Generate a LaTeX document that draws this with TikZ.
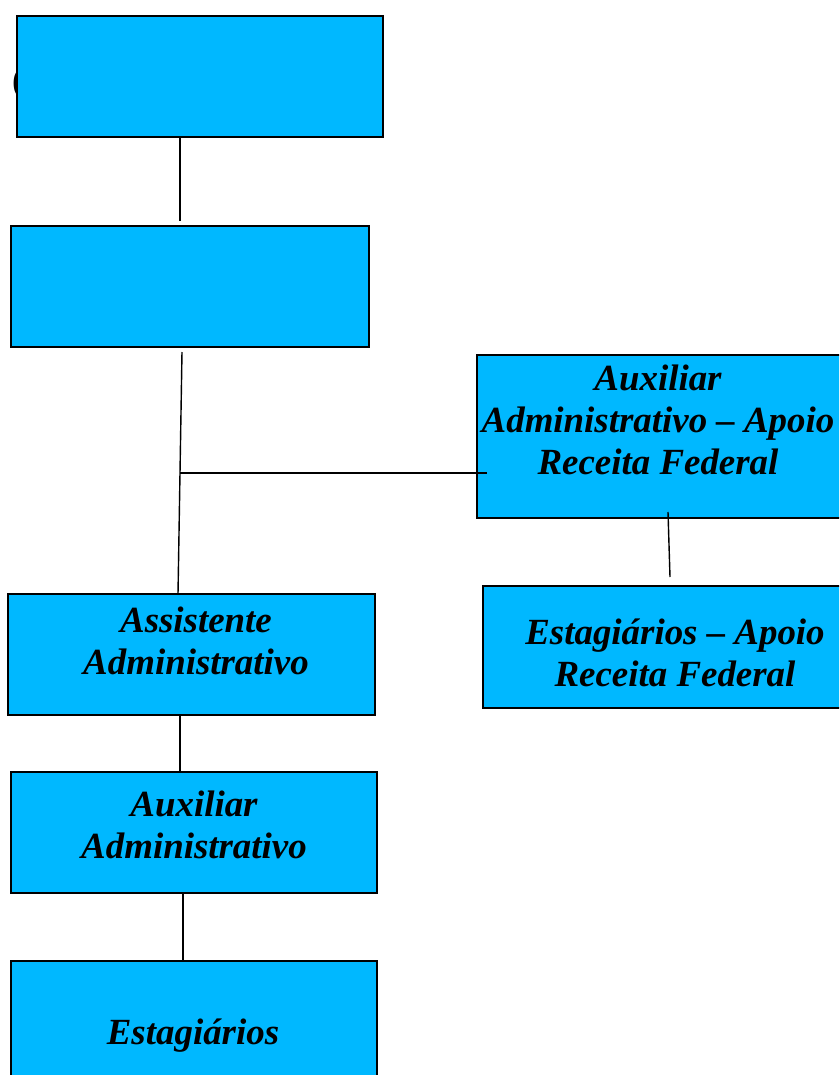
\documentclass[tikz,border=0pt]{standalone}
\usepackage{fontspec}
\setmainfont{Liberation Serif}
\usepackage{tikz}
\definecolor{boxblue}{RGB}{0,184,255}
\tikzset{
  cargo/.style={draw=black, line width=0.9pt, fill=boxblue, rectangle, inner sep=0pt, minimum height=2.42cm},
  lbl/.style={align=center, font=\bfseries\itshape\fontsize{21}{23.8}\selectfont, inner sep=0pt},
  liga/.style={line width=0.8pt}
}
\begin{document}
\begin{tikzpicture}[x=0.02cm, y=-0.02cm]
                \useasboundingbox (0,0) rectangle (839,1075);
                \clip (0,0) rectangle (839,1075);
                % left column
                \node[font=\bfseries\fontsize{21}{24}\selectfont, inner sep=0pt] (paren) at (19,84) {(};
                \node[cargo, minimum width=7.32cm] (topo) at (200,76.5) {};
                \node[cargo, minimum width=7.16cm] (chefe) at (190,286.5) {};
                \node[cargo, minimum width=7.34cm] (assist) at (191.5,654.5) {};
                \node[lbl] (assist-t) at (196,641) {Assistente\\Administrativo};
                \node[cargo, minimum width=7.32cm] (aux) at (194,832.5) {};
                \node[lbl] (aux-t) at (194,825) {Auxiliar\\Administrativo};
                \node[cargo, minimum width=7.32cm] (estag) at (194,1021.5) {};
                \node[lbl] (estag-t) at (193,1036) {Estagiários};
                % right column
                \node[cargo, minimum width=7.36cm, minimum height=3.26cm] (auxrf) at (661,436.5) {};
                \node[lbl] (auxrf-t) at (658,420) {Auxiliar\\Administrativo -- Apoio\\Receita Federal};
                \node[cargo, minimum width=7.24cm, minimum height=2.44cm] (estrf) at (664,647) {};
                \node[lbl] (estrf-t) at (675,653) {Estagiários -- Apoio\\Receita Federal};
                % connectors
                \coordinate (c1) at (180,221);
                \coordinate (c2) at (182,352);
                \coordinate (c3) at (178,594);
                \coordinate (j) at (180,473);
                \coordinate (c4) at (487,473);
                \coordinate (c5) at (668,512);
                \coordinate (c6) at (670,577);
                \draw[liga] (c1 |- topo.south) -- (c1);
                \draw[liga] (c2) -- (c3);
                \draw[liga] (j) -- (c4);
                \draw[liga] (c5) -- (c6);
                \draw[liga] (180,0 |- assist.south) -- (180,0 |- aux.north);
                \draw[liga] (183,0 |- aux.south) -- (183,0 |- estag.north);
            \end{tikzpicture}
\end{document}
